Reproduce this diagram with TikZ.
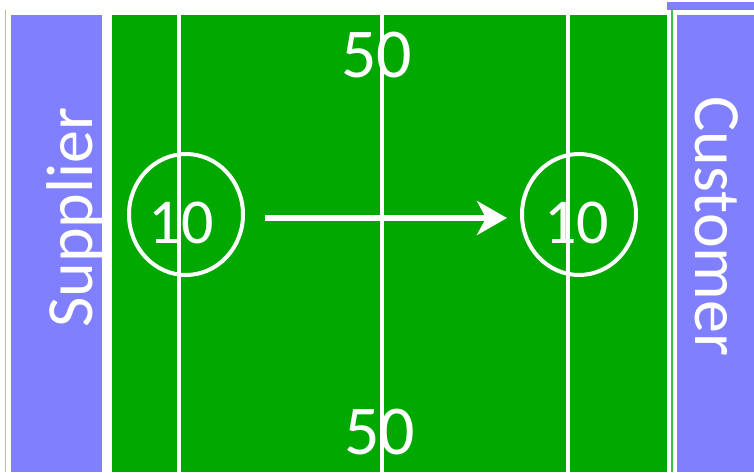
\documentclass[tikz,border=0pt]{standalone}
\usepackage{fontspec}
\setmainfont{Carlito}
\usetikzlibrary{arrows.meta,shapes.geometric}
\definecolor{field}{RGB}{0,168,0}
\definecolor{side}{RGB}{128,128,255}
\definecolor{thinblue}{RGB}{176,176,255}
\definecolor{thingreen}{RGB}{64,192,64}
\tikzset{
  sidebox/.style={fill=side, draw=none},
  yardline/.style={draw=white, line width=4pt},
  ring/.style={draw=white, line width=4pt, ellipse, minimum width=114pt, minimum height=121pt, inner sep=0pt},
  bignum/.style={text=white, font=\fontsize{70}{70}\selectfont, inner sep=0pt, anchor=base},
  ringnum/.style={text=white, font=\fontsize{64}{64}\selectfont, inner sep=0pt, anchor=base},
  sidelabel/.style={text=white, font=\fontsize{66}{66}\selectfont, inner sep=0pt, anchor=base},
}
\begin{document}
\begin{tikzpicture}[x=1pt,y=-1pt]
\useasboundingbox (0,0) rectangle (754,472);
% thin edge lines
\draw[thinblue, line width=1pt] (5,10) -- (5,472);
\fill[side] (667,2) rectangle (754,10);
\draw[thingreen, line width=1.2pt] (672,10) -- (672,472);
% side boxes
\fill[sidebox] (11,15) rectangle (101.5,472);
\fill[sidebox] (677,15) rectangle (754,472);
% field
\fill[field] (112,15) rectangle (667,472);
% yard lines
\draw[yardline] (179,15) -- (179,472);
\draw[yardline] (381.5,15) -- (381.5,472);
\draw[yardline] (568,15) -- (568,472);
% rings
\node[ring] (lring) at (186,214.5) {};
\node[ring] (rring) at (579,214.5) {};
% numbers
\node[bignum] (ntop) at (376.5,77) {50};
\node[bignum] (nbot) at (379.5,454) {50};
\node[ringnum] (nl) at (181,243) {10};
\node[ringnum] (nr) at (576.5,243) {10};
% side labels
\node[sidelabel, rotate=90] (sup) at (92,217.5) {Supplier};
\node[sidelabel, rotate=-90] (cus) at (695,226.5) {Customer};
% arrow
\coordinate (astart) at (265,218);
\coordinate (aend) at (507,218);
\draw[white, line width=6pt, -{Stealth[length=30pt, width=34pt, inset=9pt]}] (astart) -- (aend);
\end{tikzpicture}
\end{document}
